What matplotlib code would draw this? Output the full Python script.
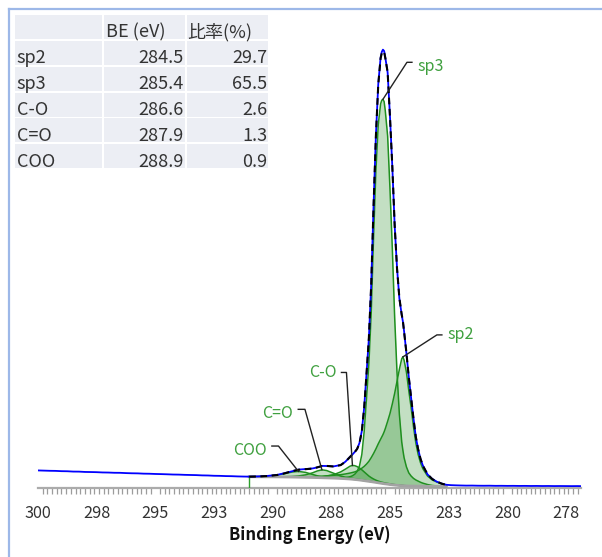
import numpy as np
import matplotlib
matplotlib.use("Agg")
import matplotlib.pyplot as plt
from matplotlib.patches import Rectangle
from matplotlib.lines import Line2D
from matplotlib.ticker import FixedLocator, MultipleLocator

plt.rcParams['font.family'] = ['Noto Sans CJK JP', 'DejaVu Sans']

# ---------------- data ----------------
table_header = ['', 'BE (eV)', '比率(%)']
comp_names = ['sp2', 'sp3', 'C-O', 'C=O', 'COO']
comp_be = [284.5, 285.4, 286.6, 287.9, 288.9]
comp_ratio = [29.7, 65.5, 2.6, 1.3, 0.9]

xtick_values = [300, 297.5, 295, 292.5, 290, 287.5, 285, 282.5, 280, 277.5]
xtick_labels = ['300', '298', '295', '293', '290', '288', '285', '283', '280', '278']

# fit region grid (binding energy, eV)
fit_be = [291.0, 290.6, 290.2, 289.8, 289.5, 289.2, 288.9, 288.6, 288.3, 288.1,
          287.9, 287.7, 287.4, 287.1, 286.9, 286.7, 286.6, 286.5, 286.4, 286.3,
          286.2, 286.1, 286.0, 285.9, 285.8, 285.7, 285.6, 285.5, 285.4, 285.35,
          285.3, 285.25, 285.2, 285.1, 285.0, 284.9, 284.8, 284.7, 284.6, 284.5,
          284.45, 284.4, 284.3, 284.2, 284.1, 284.0, 283.9, 283.8, 283.7, 283.6,
          283.4, 283.2, 283.0, 282.8, 282.6]

background = [2.45, 2.44, 2.43, 2.42, 2.40, 2.38, 2.35, 2.32, 2.29, 2.26,
              2.23, 2.20, 2.15, 2.08, 2.02, 1.95, 1.90, 1.85, 1.80, 1.74,
              1.67, 1.60, 1.52, 1.45, 1.38, 1.30, 1.22, 1.13, 1.05, 1.01,
              0.97, 0.93, 0.90, 0.83, 0.76, 0.70, 0.64, 0.59, 0.55, 0.51,
              0.50, 0.48, 0.46, 0.44, 0.42, 0.41, 0.40, 0.39, 0.38, 0.38,
              0.37, 0.36, 0.36, 0.35, 0.35]

sp3 = [2.45, 2.44, 2.43, 2.42, 2.40, 2.38, 2.36, 2.33, 2.31, 2.28,
       2.26, 2.24, 2.21, 2.20, 2.25, 2.45, 2.65, 3.0, 3.6, 4.8,
       7.3, 12.3, 19.5, 27.0, 38.0, 54.5, 69.0, 79.0, 83.5, 84.3,
       84.5, 84.0, 82.0, 76.5, 65.0, 52.0, 37.0, 25.0, 16.0, 10.0,
       8.2, 6.6, 4.6, 3.3, 2.6, 2.1, 1.75, 1.5, 1.25, 1.05,
       0.75, 0.55, 0.45, 0.40, 0.37]

sp2 = [2.45, 2.44, 2.44, 2.44, 2.43, 2.43, 2.43, 2.44, 2.46, 2.50,
       2.56, 2.64, 2.76, 2.90, 3.05, 3.25, 3.37, 3.50, 3.70, 3.95,
       4.3, 4.7, 5.2, 5.8, 6.6, 7.5, 8.5, 9.6, 10.6, 11.1,
       11.6, 12.2, 12.9, 14.5, 16.2, 18.3, 20.6, 23.2, 25.8, 28.1,
       28.5, 27.8, 25.2, 21.2, 17.5, 13.4, 9.8, 7.3, 5.5, 4.2,
       2.6, 1.75, 1.3, 0.9, 0.65]

c_o = [2.45, 2.44, 2.43, 2.42, 2.40, 2.38, 2.36, 2.35, 2.36, 2.40,
       2.47, 2.60, 2.90, 3.50, 4.10, 4.75, 4.90, 4.85, 4.65, 4.35,
       3.95, 3.50, 3.05, 2.60, 2.25, 1.95, 1.70, 1.50, 1.33, 1.26,
       1.20, 1.14, 1.09, 0.99, 0.90, 0.82, 0.74, 0.67, 0.62, 0.56,
       0.54, 0.52, 0.49, 0.46, 0.44, 0.42, 0.41, 0.40, 0.39, 0.38,
       0.37, 0.36, 0.36, 0.35, 0.35]

c_eq_o = [2.45, 2.44, 2.43, 2.43, 2.44, 2.50, 2.62, 2.85, 3.30, 3.70,
          3.95, 3.80, 3.20, 2.60, 2.35, 2.15, 2.07, 2.00, 1.93, 1.85,
          1.77, 1.69, 1.60, 1.52, 1.44, 1.35, 1.27, 1.18, 1.09, 1.05,
          1.01, 0.97, 0.93, 0.86, 0.79, 0.72, 0.66, 0.61, 0.56, 0.52,
          0.51, 0.49, 0.47, 0.45, 0.43, 0.41, 0.40, 0.39, 0.38, 0.38,
          0.37, 0.36, 0.36, 0.35, 0.35]

coo = [2.46, 2.50, 2.60, 2.80, 3.10, 3.45, 3.60, 3.40, 2.95, 2.65,
       2.45, 2.32, 2.20, 2.10, 2.03, 1.96, 1.91, 1.86, 1.81, 1.75,
       1.68, 1.61, 1.53, 1.46, 1.39, 1.31, 1.23, 1.14, 1.06, 1.02,
       0.98, 0.94, 0.91, 0.84, 0.77, 0.71, 0.65, 0.60, 0.56, 0.52,
       0.51, 0.49, 0.47, 0.45, 0.43, 0.41, 0.40, 0.39, 0.38, 0.38,
       0.37, 0.36, 0.36, 0.35, 0.35]

envelope = [2.46, 2.50, 2.61, 2.83, 3.17, 3.62, 3.97, 4.09, 4.22, 4.49,
            4.77, 4.80, 4.67, 4.98, 5.70, 6.76, 7.30, 7.81, 8.49, 9.74,
            12.32, 17.4, 24.8, 32.6, 44.2, 61.3, 76.6, 87.7, 93.4, 94.5,
            94.9, 94.8, 93.5, 90.4, 80.6, 69.8, 57.1, 47.7, 41.3, 37.7,
            36.3, 34.0, 29.4, 24.1, 19.7, 15.1, 11.15, 8.41, 6.37, 4.87,
            2.98, 1.94, 1.39, 0.95, 0.67]

raw_be = [300.0, 299.75, 299.5, 299.25, 299.0, 298.75, 298.5, 298.25, 298.0, 297.75,
          297.5, 297.25, 297.0, 296.75, 296.5, 296.25, 296.0, 295.75, 295.5, 295.25,
          295.0, 294.75, 294.5, 294.25, 294.0, 293.75, 293.5, 293.25, 293.0, 292.75,
          292.5, 292.25, 292.0, 291.75, 291.5, 291.25,
          291.0, 290.6, 290.2, 289.8, 289.5, 289.2, 288.9, 288.6, 288.3, 288.1,
          287.9, 287.7, 287.4, 287.1, 286.9, 286.7, 286.6, 286.5, 286.4, 286.3,
          286.2, 286.1, 286.0, 285.9, 285.8, 285.7, 285.6, 285.5, 285.4, 285.35,
          285.3, 285.25, 285.2, 285.1, 285.0, 284.9, 284.8, 284.7, 284.6, 284.5,
          284.45, 284.4, 284.3, 284.2, 284.1, 284.0, 283.9, 283.8, 283.7, 283.6,
          283.4, 283.2, 283.0, 282.8, 282.6,
          282.4, 282.2, 282.0, 281.75, 281.5, 281.25, 281.0, 280.75, 280.5, 280.25,
          280.0, 279.75, 279.5, 279.25, 279.0, 278.75, 278.5, 278.25, 278.0, 277.75,
          277.5, 277.25, 277.0, 276.9]
raw_int = [3.82, 3.78, 3.74, 3.72, 3.66, 3.64, 3.57, 3.56, 3.49, 3.47,
           3.44, 3.38, 3.36, 3.31, 3.30, 3.24, 3.20, 3.18, 3.12, 3.10,
           3.05, 3.02, 2.98, 2.93, 2.91, 2.86, 2.83, 2.80, 2.74, 2.72,
           2.66, 2.64, 2.59, 2.57, 2.52, 2.49,
           2.47, 2.52, 2.64, 2.86, 3.22, 3.60, 4.00, 4.12, 4.25, 4.47,
           4.80, 4.78, 4.70, 5.00, 5.72, 6.80, 7.28, 7.85, 8.50, 9.80,
           12.4, 17.5, 24.9, 32.5, 44.3, 61.4, 76.7, 87.8, 93.6, 94.8,
           95.3, 95.0, 93.6, 90.3, 80.7, 69.7, 57.0, 47.8, 41.2, 37.6,
           36.2, 34.1, 29.3, 24.2, 19.6, 15.2, 11.1, 8.45, 6.32, 4.90,
           2.95, 1.98, 1.36, 0.97, 0.70,
           0.62, 0.58, 0.55, 0.52, 0.53, 0.50, 0.49, 0.50, 0.47, 0.48,
           0.46, 0.47, 0.45, 0.46, 0.44, 0.45, 0.43, 0.44, 0.42, 0.43,
           0.42, 0.41, 0.42, 0.41]

# ---------------- figure ----------------
W, H = 602, 557
fig = plt.figure(figsize=(W / 100, H / 100), dpi=100)


def fx(px):
    return px / W


def fy(py):
    return 1 - py / H


ax = fig.add_axes([fx(38), fy(488), (581 - 38) / W, (488 - 28) / H])
ax.set_xlim(300, 276.86)
ax.set_ylim(0, 100)

fit_x = np.array(fit_be)
bg = np.array(background)
comps = {'COO': coo, 'C=O': c_eq_o, 'C-O': c_o, 'sp2': sp2, 'sp3': sp3}
fill_col = '#228b22'
line_col = '#1f8f1f'
for name, vals in comps.items():
    ax.fill_between(fit_x, bg, np.array(vals), color=fill_col, alpha=0.27, lw=0, zorder=2)
for name, vals in comps.items():
    ax.plot(fit_x, vals, color=line_col, lw=1.1, zorder=3)

ax.plot(fit_x, bg, color='#a3a3a3', lw=2.0, zorder=4)
ax.vlines(fit_x[0], 0, bg[0], color='#2ca02c', lw=1.0, zorder=5)
ax.plot(raw_be, raw_int, color='#0000ff', lw=1.3, zorder=5)
ax.plot(fit_x, envelope, color='black', lw=1.5, ls=(0, (3.2, 2.2)), zorder=6)

# axes styling
for s in ['left', 'right', 'top']:
    ax.spines[s].set_visible(False)
ax.spines['bottom'].set_color('#ababab')
ax.spines['bottom'].set_linewidth(1.6)
ax.set_yticks([])
ax.xaxis.set_major_locator(FixedLocator(xtick_values))
ax.set_xticklabels(xtick_labels)
ax.xaxis.set_minor_locator(MultipleLocator(0.2))
ax.tick_params(axis='x', which='major', length=0, pad=12, labelsize=11.7,
               labelcolor='#333333')
ax.tick_params(axis='x', which='minor', length=4.6, width=0.9, color='#9c9c9c',
               direction='out')
ax.patch.set_alpha(0)

fig.text(fx(310), fy(535), 'Binding Energy (eV)', ha='center', va='center',
         fontsize=12, fontweight='bold', color='#111111')

# ---------------- leader lines + labels ----------------
label_green = '#3fa03f'
inv = fig.transFigure.inverted()


def leader(vals, name, knee, seg, tdx, tdy, ha):
    v = np.array(vals)
    i = int(np.argmax(v - bg))
    p0 = ax.transData.transform((fit_x[i], v[i]))
    p1 = (p0[0] + knee[0], p0[1] - knee[1])
    p2 = (p1[0] + seg, p1[1])
    pts = inv.transform([p0, p1, p2])
    fig.add_artist(Line2D(pts[:, 0], pts[:, 1], transform=fig.transFigure,
                          color='#222222', lw=1.0, zorder=10))
    tp = inv.transform([(p1[0] + tdx, p1[1] - tdy)])[0]
    fig.text(tp[0], tp[1], name, ha=ha, va='baseline', color=label_green,
             fontsize=11.5, zorder=11)


leader(sp3, 'sp3', (24, -37), 5, 10.6, 9, 'left')
leader(sp2, 'sp2', (34, -22), 5, 10.6, 4, 'left')
leader(c_o, 'C-O', (-6, -93), -5, -9.4, 4.6, 'right')
leader(c_eq_o, 'C=O', (-17, -60.5), -6.7, -12.3, 9, 'right')
leader(coo, 'COO', (-20, -25.4), -6.6, -11.6, 9, 'right')

# ---------------- table ----------------
cell_col = '#eceef4'
col_left = [15, 103.5, 186.5]
col_right = [101.5, 185, 268]
row_top0 = 15
row_step = 25.85
row_h = 24
n_rows = len(comp_names) + 1
for r in range(n_rows):
    top = row_top0 + r * row_step
    for c in range(3):
        fig.add_artist(Rectangle((fx(col_left[c]), fy(top + row_h)),
                                 (col_right[c] - col_left[c]) / W, row_h / H,
                                 transform=fig.transFigure, color=cell_col,
                                 lw=0, zorder=1))

tcol = '#333333'
tfs = 13
base0 = 37.5
fig.text(fx(106), fy(base0), table_header[1], ha='left', va='baseline',
         fontsize=tfs, color=tcol)
fig.text(fx(187.5), fy(base0), table_header[2], ha='left', va='baseline',
         fontsize=tfs, color=tcol)
for r, (nm, be, ra) in enumerate(zip(comp_names, comp_be, comp_ratio), start=1):
    yb = base0 + r * row_step
    fig.text(fx(16.5), fy(yb), nm, ha='left', va='baseline', fontsize=tfs, color=tcol)
    fig.text(fx(184), fy(yb), f'{be:.1f}', ha='right', va='baseline', fontsize=tfs, color=tcol)
    fig.text(fx(267), fy(yb), f'{ra:.1f}', ha='right', va='baseline', fontsize=tfs, color=tcol)

# ---------------- light blue frame (left & top) ----------------
frame_col = '#9db8e8'
fig.add_artist(Line2D([fx(8.5), fx(8.5)], [fy(8.5), 0], transform=fig.transFigure,
                      color=frame_col, lw=1.6))
fig.add_artist(Line2D([fx(8.5), 1], [fy(8.5), fy(8.5)], transform=fig.transFigure,
                      color=frame_col, lw=1.6))

fig.savefig('out.png', dpi=100)
